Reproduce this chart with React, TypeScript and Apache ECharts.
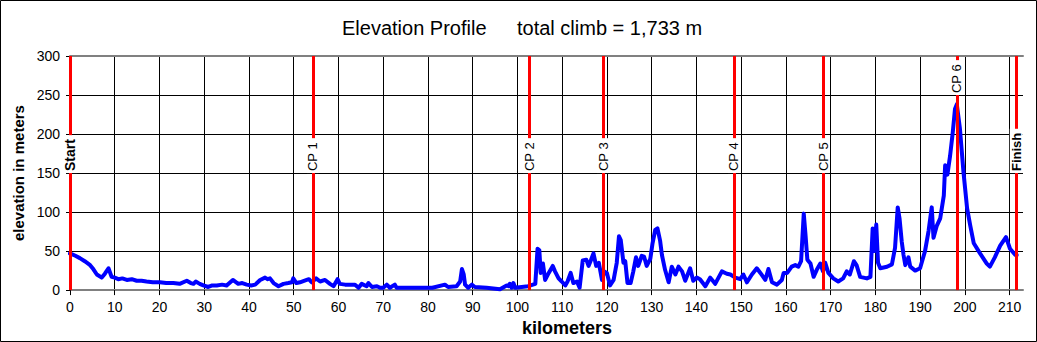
import React, { useEffect, useRef } from 'react';
import * as echarts from 'echarts';

// Distance along the route (km) and elevation (m)
const distanceKm = [
  0, 1.2, 2.2, 3.3, 4.5, 5.2, 6.0, 7.1, 7.8, 8.6, 9.3, 10.0, 10.8, 11.7, 12.7, 13.8, 14.9, 16.0, 17.1, 18.5,
  20.1, 21.5, 23.1, 24.5, 26.1, 27.0, 27.6, 28.1, 29.0, 29.8, 30.9, 31.8, 32.8, 34.0, 35.0, 36.4, 37.6, 38.5, 39.5, 40.5,
  41.4, 42.5, 43.6, 44.2, 44.7, 45.5, 46.6, 47.7, 48.8, 49.6, 49.9, 50.6, 51.4, 52.9, 53.4, 54.0, 55.0, 55.9, 57.0, 58.1,
  58.9, 59.8, 60.3, 61.5, 62.5, 63.7, 64.5, 65.2, 66.3, 66.7, 67.5, 68.6, 69.3, 70.0, 70.8, 71.5, 72.6, 73.0, 75.0, 78.0,
  81.0, 83.8, 84.5, 86.4, 87.2, 87.6, 88.0, 88.3, 89.0, 89.8, 90.5, 93.1, 96.1, 97.6, 98.0, 98.3, 98.7, 99.1, 99.5, 102.4,
  104.0, 104.5, 104.9, 105.2, 105.7, 106.2, 107.0, 107.9, 108.4, 109.2, 109.9, 110.7, 111.2, 111.9, 112.5, 113.3, 113.9, 114.6, 115.4, 115.9,
  116.4, 117.0, 117.6, 118.2, 118.9, 119.4, 120.0, 120.7, 121.5, 122.2, 122.7, 123.1, 123.7, 124.1, 124.6, 125.3, 125.9, 126.5, 127.0, 127.8,
  128.3, 128.9, 129.7, 130.2, 130.8, 131.3, 131.9, 132.3, 133.0, 133.8, 134.5, 135.3, 136.0, 136.8, 137.5, 138.6, 139.3, 140.1, 140.8, 142.0,
  143.1, 144.2, 145.7, 146.8, 147.6, 148.7, 149.8, 150.5, 151.3, 152.4, 153.5, 154.3, 155.4, 156.1, 156.9, 158.0, 159.1, 159.5, 160.3, 161.3,
  162.1, 162.8, 163.4, 164.0, 164.4, 164.8, 165.5, 166.2, 166.9, 167.7, 168.3, 168.8, 169.5, 170.6, 171.7, 172.8, 173.6, 174.3, 175.2, 175.8,
  176.6, 178.1, 178.9, 179.4, 179.8, 180.2, 180.6, 181.1, 182.6, 183.7, 184.4, 185.0, 185.4, 185.9, 186.3, 186.7, 187.4, 187.8, 188.9, 190.0,
  191.1, 191.9, 192.6, 193.0, 193.7, 194.5, 195.3, 195.6, 196.1, 196.7, 197.3, 197.8, 198.2, 198.9, 199.7, 200.5, 201.2, 202.0, 203.4, 204.9,
  205.6, 206.7, 207.9, 209.2, 210.1, 211.3, 211.6,
];
const elevationM = [
  47, 44, 41, 37, 32, 27, 20, 16, 21, 28, 17, 16, 14, 15, 13, 14, 12, 12, 11, 10,
  10, 9, 9, 8, 12, 9, 8, 11, 8, 6, 4, 6, 6, 7, 6, 13, 8, 9, 7, 6,
  7, 13, 16, 14, 15, 9, 5, 8, 9, 10, 15, 9, 10, 13, 14, 10, 15, 11, 13, 8,
  5, 14, 8, 7, 7, 7, 3, 8, 5, 9, 4, 5, 3, 3, 7, 3, 7, 3, 3, 3,
  3, 7, 4, 5, 11, 27, 20, 7, 3, 7, 4, 3, 1, 6, 5, 8, 3, 9, 3, 5,
  8, 53, 51, 22, 34, 13, 22, 31, 24, 15, 11, 6, 11, 22, 9, 11, 3, 38, 39, 31,
  38, 47, 31, 35, 13, 24, 22, 6, 13, 35, 69, 64, 35, 37, 9, 9, 24, 42, 31, 44,
  43, 31, 40, 60, 77, 79, 63, 45, 26, 10, 30, 20, 30, 24, 12, 28, 12, 16, 14, 5,
  16, 8, 24, 21, 20, 16, 14, 20, 10, 20, 28, 22, 13, 27, 10, 7, 13, 22, 22, 30,
  32, 30, 37, 98, 70, 39, 34, 17, 26, 34, 24, 35, 22, 15, 11, 15, 24, 20, 37, 32,
  17, 15, 17, 79, 50, 84, 35, 28, 30, 33, 54, 106, 92, 62, 45, 32, 42, 30, 25, 28,
  50, 76, 106, 67, 82, 92, 121, 160, 148, 172, 202, 232, 238, 207, 151, 105, 83, 60, 47, 34,
  30, 42, 57, 68, 53, 45, 45,
];

// Checkpoints
const checkpointNames = ['Start', 'CP 1', 'CP 2', 'CP 3', 'CP 4', 'CP 5', 'CP 6', 'Finish'];
const checkpointKm = [0, 54.3, 102.6, 119.2, 148.4, 168.3, 198.2, 211.5];
const checkpointLabelM = [150, 150, 150, 150, 150, 150, 250, 150];

// Axis ticks
const xTicks = [0, 10, 20, 30, 40, 50, 60, 70, 80, 90, 100, 110, 120, 130, 140, 150, 160, 170, 180, 190, 200, 210];
const yTicks = [0, 50, 100, 150, 200, 250, 300];

const FONT = 'Arial, "Liberation Sans", Helvetica, sans-serif';

export default function App() {
  const ref = useRef<HTMLDivElement>(null);

  useEffect(() => {
    document.body.style.margin = '0';
    if (!ref.current) return;
    const chart = echarts.init(ref.current, undefined, { renderer: 'svg' });

    const profile = distanceKm.map((d, i) => [d, elevationM[i]]);
    const cpPoints = checkpointKm.map((d, i) => {
      const edge = i === 0 || i === checkpointKm.length - 1;
      return {
        value: [d, checkpointLabelM[i]],
        name: checkpointNames[i],
        label: { fontWeight: edge ? 'bold' : 'normal', fontSize: i === 0 ? 14 : 13 },
      };
    });
    const cpLines = checkpointKm.map((d) => [
      { coord: [d, yTicks[0]] },
      { coord: [d, yTicks[yTicks.length - 1]] },
    ]);

    chart.setOption({
      animation: false,
      backgroundColor: '#fff',
      title: [
        { text: 'Elevation Profile', left: 337, top: 13, textStyle: { fontFamily: FONT, fontSize: 20, fontWeight: 'normal', color: '#000' } },
        { text: 'total climb = 1,733 m', left: 512, top: 13, textStyle: { fontFamily: FONT, fontSize: 20, fontWeight: 'normal', color: '#000' } },
      ],
      graphic: [
        { type: 'rect', shape: { x: 0.5, y: 0.5, width: 1036, height: 341 }, style: { fill: 'none', stroke: '#000', lineWidth: 1 }, silent: true },
      ],
      grid: { left: 70, right: 14, top: 56, bottom: 50, containLabel: false },
      xAxis: [
        {
          type: 'value',
          min: 0,
          max: 213,
          interval: 10,
          name: 'kilometers',
          nameLocation: 'middle',
          nameGap: 25,
          nameTextStyle: { fontFamily: FONT, fontSize: 18, fontWeight: 'bold', color: '#000', padding: [0, 0, 0, 41] },
          axisLine: { show: true, lineStyle: { color: '#808080', width: 2 } },
          axisTick: { show: true, length: 5, lineStyle: { color: '#000' }, customValues: xTicks },
          axisLabel: { fontFamily: FONT, fontSize: 14, color: '#000', margin: 10, customValues: xTicks },
          splitLine: { show: true, lineStyle: { color: '#000', width: 1 } },
        },
        {
          type: 'value',
          position: 'top',
          min: 0,
          max: 213,
          axisLine: { show: true, lineStyle: { color: '#808080', width: 2 } },
          axisTick: { show: false },
          axisLabel: { show: false },
          splitLine: { show: false },
        },
      ],
      yAxis: {
        type: 'value',
        min: 0,
        max: 300,
        interval: 50,
        name: 'elevation in meters',
        nameLocation: 'middle',
        nameGap: 43,
        nameRotate: 90,
        nameTextStyle: { fontFamily: FONT, fontSize: 15, fontWeight: 'bold', color: '#000' },
        axisLine: { show: true, lineStyle: { color: '#000', width: 1 } },
        axisTick: { show: true, length: 4, lineStyle: { color: '#000' } },
        axisLabel: { fontFamily: FONT, fontSize: 14, color: '#000', margin: 10 },
        splitLine: { show: true, lineStyle: { color: '#000', width: 1 } },
      },
      series: [
        {
          type: 'line',
          data: profile,
          showSymbol: false,
          symbol: 'none',
          lineStyle: { color: '#0000FF', width: 4, join: 'round', cap: 'round' },
          z: 3,
        },
        {
          type: 'line',
          data: [],
          z: 4,
          markLine: {
            silent: true,
            symbol: ['none', 'none'],
            label: { show: false },
            lineStyle: { color: '#FF0000', width: 3, type: 'solid', opacity: 1 },
            data: cpLines,
          },
        },
        {
          type: 'scatter',
          data: cpPoints,
          symbolSize: 1,
          clip: false,
          itemStyle: { color: 'rgba(0,0,0,0)' },
          z: 10,
          zlevel: 0,
          label: {
            show: true,
            formatter: (p: any) => p.name,
            position: 'inside',
            rotate: 90,
            align: 'left',
            verticalAlign: 'middle',
            backgroundColor: '#fff',
            padding: [0, 4, 0, 2],
            color: '#000',
            opacity: 1,
            fontFamily: FONT,
          },
          labelLayout: { hideOverlap: false },
        },
      ],
    });

    return () => chart.dispose();
  }, []);

  return <div ref={ref} style={{ width: 1037, height: 342 }} />;
}
